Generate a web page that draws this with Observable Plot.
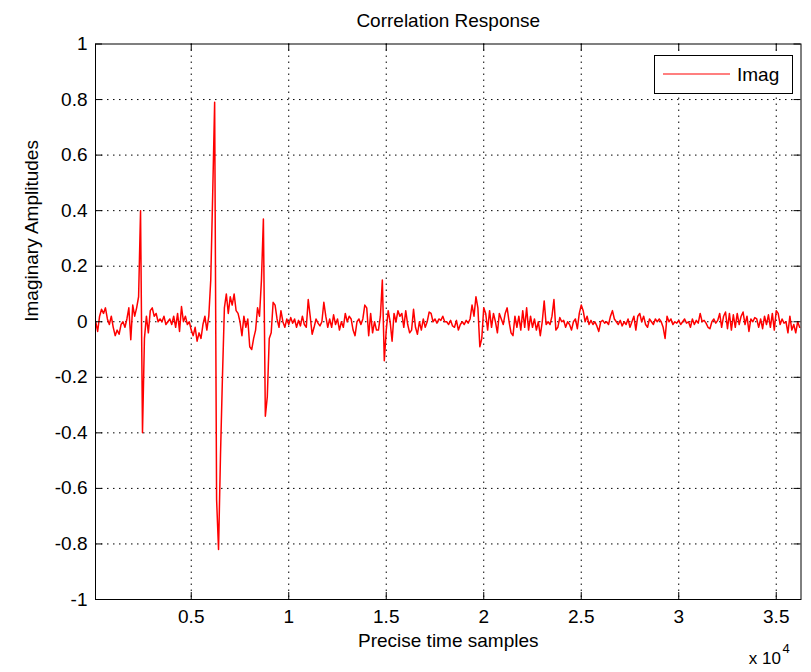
<!DOCTYPE html>
<html><head><meta charset="utf-8">
<script src="https://cdn.jsdelivr.net/npm/d3@7"></script>
<script src="https://cdn.jsdelivr.net/npm/@observablehq/plot@0.6"></script>
<style>
html,body{margin:0;padding:0;background:#fff;}
#wrap{position:relative;width:811px;height:672px;overflow:hidden;}
#legend{position:absolute;left:654px;top:55px;}
</style></head><body>
<div id="wrap"></div>
<script>
const titleText = "Correlation Response";
const xLabelText = "Precise time samples";
const yLabelText = "Imaginary Amplitudes";
const xExponentBase = "x 10";
const xExponent = "4";
const seriesName = "Imag";

// sample index of the first value and spacing between values
const sampleStart = 100;
const sampleStep = 100;

// imaginary amplitude, one value every 100 samples
const imagValues = [
  0, -0.035, 0.02, 0.045, 0.03, 0.05, 0.01, -0.01, 0.02, -0.02,
  -0.05, -0.03, -0.045, -0.01, 0, -0.02, 0.01, 0.05, -0.065, 0.06,
  0.02, 0.05, 0.09, 0.40, -0.40, -0.06, 0.02, -0.04, 0.04, 0.05,
  0.02, 0.03, 0, 0.01, 0, 0.02, -0.01, 0, 0.01, -0.01,
  0.02, -0.02, 0.03, -0.035, 0.055, 0, 0.02, -0.01, 0, -0.03,
  -0.05, -0.02, -0.07, -0.04, -0.06, -0.01, 0.02, -0.03, 0.02, 0.15,
  0.46, 0.79, -0.64, -0.82, -0.48, -0.2, 0.05, 0.1, 0.03, 0.09,
  0.06, 0.1, 0.04, 0.03, 0, -0.05, 0.02, -0.02, 0.01, -0.09,
  -0.1, -0.06, -0.03, 0.05, 0.02, 0.15, 0.37, -0.34, -0.27, -0.06,
  -0.04, 0.07, 0.06, 0.01, -0.02, 0.04, 0, -0.02, 0.01, -0.01,
  0.015, -0.005, 0.01, -0.02, 0.005, -0.015, 0.02, -0.01, -0.02, 0.08,
  0.02, -0.045, -0.02, 0.01, -0.005, -0.015, 0, 0.07, 0.02, -0.02,
  0.01, -0.02, 0.025, -0.01, 0.01, -0.03, 0, -0.02, 0.03, 0,
  0.02, 0.01, -0.03, -0.05, 0, 0.01, -0.01, 0.01, 0.06, 0.05,
  -0.05, 0.03, -0.04, 0, -0.03, -0.03, 0.02, 0.15, -0.14, -0.03,
  0.04, 0, -0.07, 0.03, 0, 0.04, 0.02, 0.03, -0.02, 0.04,
  -0.01, -0.04, -0.03, 0.045, -0.02, -0.045, 0, -0.03, 0.01, -0.02,
  0, 0.035, 0.03, 0, 0.01, -0.005, 0.01, 0.005, 0.02, 0,
  0, -0.01, 0.005, -0.015, -0.02, 0.005, -0.03, -0.01, 0, -0.01,
  0.005, -0.005, 0.01, 0.06, 0.02, 0.09, 0.05, -0.09, -0.06, 0.05,
  0.03, -0.03, 0.04, -0.02, 0.03, 0, -0.04, 0.03, 0.01, -0.01,
  0.03, 0.05, 0, -0.04, -0.05, 0.02, -0.02, 0.02, -0.03, 0.04,
  -0.02, 0.05, -0.03, 0.02, -0.02, 0.01, -0.03, 0, -0.05, 0,
  0.075, -0.01, 0, -0.01, 0.02, 0.08, -0.03, -0.02, 0.015, 0,
  0.005, -0.02, 0, -0.01, -0.03, 0, 0.01, -0.025, 0.03, 0.06,
  0.04, 0, 0.02, -0.01, 0.005, -0.01, 0, -0.015, -0.035, 0,
  0.005, -0.005, 0, -0.01, 0.02, 0.04, 0.01, 0, -0.01, 0.005,
  -0.015, 0, -0.01, 0.01, -0.02, 0, 0.02, -0.03, 0.02, 0.03,
  0, 0.02, -0.01, -0.02, 0.01, 0, -0.01, 0.01, 0, 0.01,
  0, -0.02, -0.06, 0.02, 0, 0.01, -0.01, 0, -0.005, 0.005,
  -0.01, 0, 0.01, -0.005, 0, -0.02, 0.01, -0.01, 0.005, -0.005,
  0.03, 0, 0.005, -0.005, -0.02, -0.025, 0, 0.01, -0.005, 0.005,
  0.03, -0.02, 0.02, 0.035, -0.025, 0.03, -0.03, 0.025, -0.02, 0.03,
  -0.01, 0.02, 0.035, -0.01, 0.02, -0.035, 0.01, 0, 0.015, 0.01,
  -0.02, 0.01, -0.025, 0.02, -0.01, 0.025, -0.02, 0.03, -0.03, 0.04,
  0.03, -0.01, 0.01, -0.005, 0, -0.04, 0.02, -0.03, -0.01, -0.04,
  0, -0.02
];

const xTicks = [5000, 10000, 15000, 20000, 25000, 30000, 35000];
const xTickLabels = ["0.5", "1", "1.5", "2", "2.5", "3", "3.5"];
const yTicks = [-1, -0.8, -0.6, -0.4, -0.2, 0, 0.2, 0.4, 0.6, 0.8, 1];
const yTickLabels = ["-1", "-0.8", "-0.6", "-0.4", "-0.2", "0", "0.2", "0.4", "0.6", "0.8", "1"];
const xDomain = [90, 36270];
const yDomain = [-1, 1];

const rows = imagValues.map((v, i) => ({sample: sampleStart + i * sampleStep, imag: v}));
const xLabelOf = new Map(xTicks.map((t, i) => [t, xTickLabels[i]]));
const yLabelOf = new Map(yTicks.map((t, i) => [t, yTickLabels[i]]));

const fontFamily = '"Liberation Sans", Arial, sans-serif';
const fs = 19;

const W = 811, H = 672, mL = 95, mR = 10.5, mT = 43.5, mB = 73;
const innerW = W - mL - mR, innerH = H - mT - mB;
const tickLen = 7;

const gridStyle = {stroke: "#000", strokeOpacity: 1, strokeWidth: 1, strokeDasharray: "1.5,4.5"};
const tickStyle = {stroke: "#000", strokeOpacity: 1, strokeWidth: 1};

const chart = Plot.plot({
  width: W,
  height: H,
  marginLeft: mL,
  marginRight: mR,
  marginTop: mT,
  marginBottom: mB,
  x: {domain: xDomain, axis: null},
  y: {domain: yDomain, axis: null},
  style: {fontFamily, fontSize: fs + "px", background: "#fff", color: "#000"},
  marks: [
    Plot.gridX(xTicks, gridStyle),
    Plot.gridY(yTicks.filter(t => Math.abs(t) < 1), gridStyle),
    Plot.lineY(rows, {x: "sample", y: "imag", stroke: "#ff0000", strokeWidth: 1.5}),
    Plot.frame({stroke: "#000", strokeWidth: 1}),
    // inward ticks on all four sides
    Plot.tickX(xTicks, {x: d => d, insetTop: innerH - tickLen, ...tickStyle}),
    Plot.tickX(xTicks, {x: d => d, insetBottom: innerH - tickLen, ...tickStyle}),
    Plot.tickY(yTicks, {y: d => d, insetRight: innerW - tickLen, ...tickStyle}),
    Plot.tickY(yTicks, {y: d => d, insetLeft: innerW - tickLen, ...tickStyle}),
    Plot.axisX({ticks: xTicks, anchor: "bottom", tickSize: 0, tickPadding: 10, tickFormat: d => xLabelOf.get(d), label: null}),
    Plot.axisY({ticks: yTicks, anchor: "left", tickSize: 0, tickPadding: 8, tickFormat: d => yLabelOf.get(d), label: null}),
    Plot.text([titleText], {frameAnchor: "top", text: d => d, lineAnchor: "bottom", dy: -17.5, fontSize: fs}),
    Plot.text([xLabelText], {frameAnchor: "bottom", text: d => d, lineAnchor: "bottom", dy: 47, fontSize: fs}),
    Plot.text([yLabelText], {frameAnchor: "left", text: d => d, lineAnchor: "bottom", rotate: -90, dx: -58, fontSize: fs}),
    Plot.text([xExponentBase], {frameAnchor: "bottom-right", text: d => d, textAnchor: "end", lineAnchor: "bottom", dx: -20, dy: 64, fontSize: 17}),
    Plot.text([xExponent], {frameAnchor: "bottom-right", text: d => d, textAnchor: "start", lineAnchor: "bottom", dx: -18.5, dy: 53, fontSize: 13})
  ]
});

const wrap = document.getElementById("wrap");
wrap.appendChild(chart);

// legend box
const lg = d3.select(wrap).append("svg").attr("id", "legend")
  .attr("width", 139).attr("height", 39)
  .style("font-family", fontFamily);
lg.append("rect").attr("x", 0.5).attr("y", 0.5).attr("width", 138).attr("height", 38)
  .attr("fill", "#fff").attr("stroke", "#000").attr("stroke-width", 1);
lg.append("line").attr("x1", 9).attr("x2", 76).attr("y1", 19).attr("y2", 19)
  .attr("stroke", "#ff0000").attr("stroke-width", 1.2);
lg.append("text").attr("x", 83).attr("y", 26).attr("font-size", fs).attr("fill", "#000").text(seriesName);
</script>
</body></html>
